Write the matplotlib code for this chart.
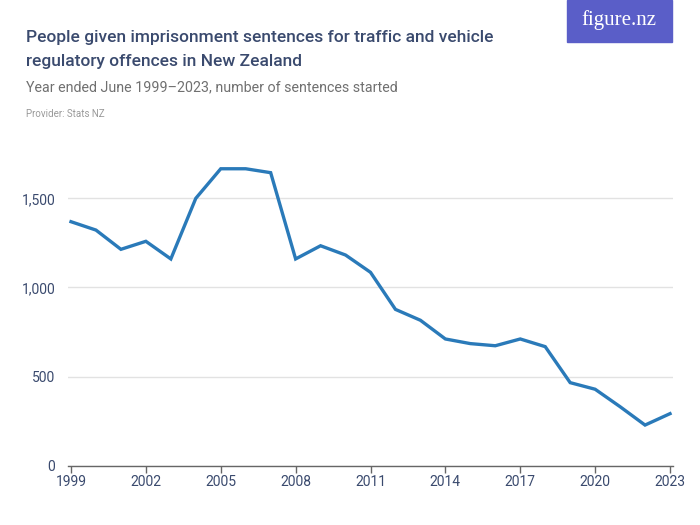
import matplotlib

matplotlib.use("Agg")
import matplotlib.pyplot as plt  # noqa: E402
from matplotlib.patches import Rectangle  # noqa: E402
from matplotlib.ticker import FuncFormatter  # noqa: E402

# Data (year ended June)
years = list(range(1999, 2024))
sentences = [1369, 1322, 1214, 1259, 1160, 1500, 1666, 1666, 1644, 1160,
             1234, 1182, 1085, 877, 816, 711, 685, 673, 711, 668,
             466, 429, 331, 228, 292]
x_ticks = [1999, 2002, 2005, 2008, 2011, 2014, 2017, 2020, 2023]
y_ticks = [0, 500, 1000, 1500]

TITLE = "People given imprisonment sentences for traffic and vehicle\nregulatory offences in New Zealand"
SUBTITLE = "Year ended June 1999\u20132023, number of sentences started"
PROVIDER = "Provider: Stats NZ"

FONT = ["Roboto", "DejaVu Sans"]
plt.rcParams["font.family"] = FONT

DARK = "#3a4a6e"
LINE = "#2a7ab9"

fig = plt.figure(figsize=(7, 5.25), dpi=100)
ax = fig.add_axes([68 / 700, 59.3 / 525, 605 / 700, 303 / 525])

ax.plot(years, sentences, color=LINE, lw=2.4, solid_joinstyle="miter")

ax.set_xlim(1998.88, 2023.12)
ax.set_ylim(0, 1700)
ax.set_xticks(x_ticks)
ax.set_yticks(y_ticks)
ax.yaxis.set_major_formatter(FuncFormatter(lambda v, _: f"{int(v):,}"))

ax.grid(axis="y", color="#e2e2e2", lw=1)
ax.set_axisbelow(True)
for side in ("top", "right", "left"):
    ax.spines[side].set_visible(False)
ax.spines["bottom"].set_color("#666666")
ax.spines["bottom"].set_linewidth(1)

ax.tick_params(axis="x", length=5, width=1, color="#666666", labelcolor=DARK,
               labelsize=10, pad=2)
ax.tick_params(axis="y", length=0, labelcolor=DARK, labelsize=10, pad=9)

fig.text(26 / 700, 1 - 49.5 / 525, TITLE, fontsize=12.5, color=DARK,
         weight="medium", va="center", ha="left", linespacing=1.7)
fig.text(26 / 700, 1 - 87 / 525, SUBTITLE, fontsize=10.3, color="#707070",
         va="center", ha="left")
fig.text(26 / 700, 1 - 114 / 525, PROVIDER, fontsize=7, color="#9a9a9a",
         va="center", ha="left")

# figure.nz badge
fig.patches.append(Rectangle((567 / 700, 1 - 42 / 525), 105 / 700, 42 / 525,
                             transform=fig.transFigure, color="#5a5ec8",
                             zorder=0))
fig.text(619 / 700, 1 - 20 / 525, "figure.nz", fontsize=15, color="white",
         family=["Liberation Serif", "DejaVu Serif"],
         va="center", ha="center")

fig.savefig("out.png", dpi=100)
